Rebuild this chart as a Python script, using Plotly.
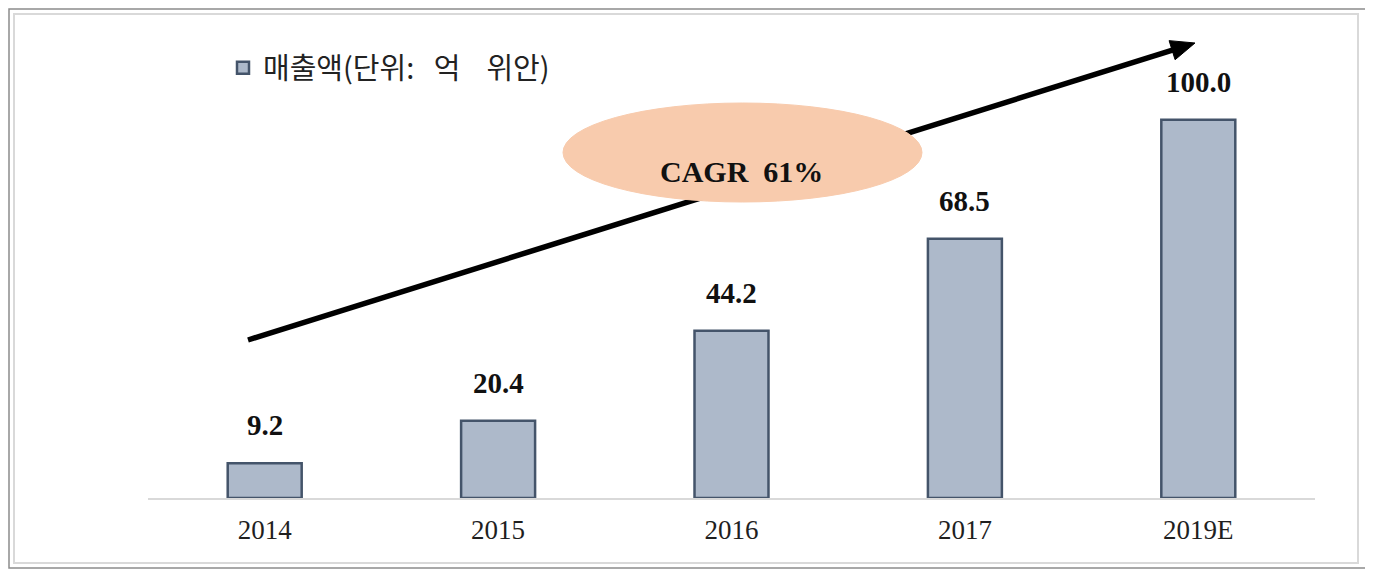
import plotly.graph_objects as go

categories = ["2014", "2015", "2016", "2017", "2019E"]
revenue = [9.2, 20.4, 44.2, 68.5, 100.0]
value_labels = ["9.2", "20.4", "44.2", "68.5", "100.0"]
series_name = "매출액(단위:\u00a0\u00a0\u00a0억\u00a0\u00a0\u00a0\u00a0위안)"
cagr_text = "CAGR\u00a0\u00a061%"

# the page body adds an 8px offset; the figure fills the rest of the window
OFF = 8
WIN_W, WIN_H = 1373, 570
W, H = WIN_W - OFF, WIN_H - OFF
AX_L, AX_R, AX_T, AX_B = 148, 1315, 44, 498   # plot area in window pixels
ML, MR, MT, MB = AX_L - OFF, WIN_W - AX_R, AX_T - OFF, WIN_H - AX_B
PW, PH = AX_R - AX_L, AX_B - AX_T


def to_px(x):
    return (x - AX_L) / PW


def to_py(y):
    return (AX_B - y) / PH


SERIF = "Liberation Serif, Times New Roman, serif"
KR = "Noto Sans CJK KR, sans-serif"

positions = list(range(len(categories)))

fig = go.Figure()
fig.add_trace(go.Bar(
    x=positions, y=revenue, name=series_name,
    marker=dict(color="#ADB9CA", line=dict(color="#44546A", width=2.5)),
    width=[0.317] * len(categories),
    customdata=categories, hovertemplate="%{customdata}: %{y}<extra></extra>",
))

for i, v, t in zip(positions, revenue, value_labels):
    fig.add_annotation(x=i, y=v, xref="x", yref="y", text="<b>%s</b>" % t,
                       showarrow=False, yanchor="middle", yshift=38,
                       font=dict(family=SERIF, size=29, color="#111111"))

shapes = []
# outer frames
shapes.append(dict(type="rect", xref="paper", yref="paper",
                   x0=to_px(9), x1=to_px(1367), y0=to_py(568), y1=to_py(9),
                   line=dict(color="#8C8C8C", width=1.5), layer="below"))
shapes.append(dict(type="rect", xref="paper", yref="paper",
                   x0=to_px(14), x1=to_px(1358), y0=to_py(563), y1=to_py(14),
                   line=dict(color="#D9D9D9", width=2), layer="below"))

# growth arrow
x0a, y0a = 248, 340
xt, yt = 1195, 43
dx, dy = xt - x0a, yt - y0a
L = (dx ** 2 + dy ** 2) ** 0.5
ux, uy = dx / L, dy / L
nx, ny = -uy, ux
hl, hw = 24, 10
bx, by = xt - hl * ux, yt - hl * uy
shapes.append(dict(type="line", xref="paper", yref="paper",
                   x0=to_px(x0a), y0=to_py(y0a), x1=to_px(bx + 2 * ux), y1=to_py(by + 2 * uy),
                   line=dict(color="black", width=5.5), layer="above"))
shapes.append(dict(type="path", xref="paper", yref="paper",
                   path="M %f,%f L %f,%f L %f,%f Z" % (
                       to_px(xt), to_py(yt),
                       to_px(bx + hw * nx), to_py(by + hw * ny),
                       to_px(bx - hw * nx), to_py(by - hw * ny)),
                   fillcolor="black", line=dict(color="black", width=1), layer="above"))
# CAGR ellipse
shapes.append(dict(type="circle", xref="paper", yref="paper",
                   x0=to_px(563), x1=to_px(922), y0=to_py(202), y1=to_py(103),
                   fillcolor="#F8CBAD", line=dict(color="#F8CBAD", width=1), layer="above"))

fig.add_annotation(xref="paper", yref="paper", x=to_px(741), y=to_py(153),
                   text="<b>%s</b>" % cagr_text, showarrow=False,
                   font=dict(family=SERIF, size=30, color="#111111"))

fig.update_layout(
    width=W, height=H,
    margin=dict(l=ML, r=MR, t=MT, b=MB, pad=0),
    paper_bgcolor="white", plot_bgcolor="white",
    shapes=shapes,
    showlegend=True,
    legend=dict(x=to_px(223), y=to_py(68), xanchor="left", yanchor="middle",
                font=dict(family=KR, size=29, color="#222222"),
                bgcolor="rgba(0,0,0,0)", itemwidth=30),
    xaxis=dict(type="linear", range=[-0.5, len(categories) - 0.5],
               tickmode="array", tickvals=positions, ticktext=categories,
               showline=True, linecolor="#D9D9D9", linewidth=2,
               ticks="outside", ticklen=7, tickcolor="rgba(0,0,0,0)",
               showgrid=False, zeroline=False,
               tickfont=dict(family=SERIF, size=27, color="#1F1F1F")),
    yaxis=dict(range=[0, 120], visible=False, showgrid=False),
)

fig.write_html("out.html")
